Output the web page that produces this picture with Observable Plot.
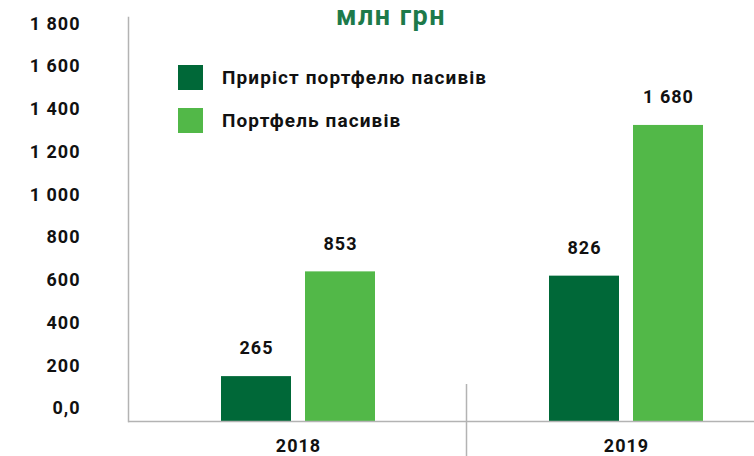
<!DOCTYPE html>
<html>
<head>
<meta charset="utf-8">
<script src="https://cdn.jsdelivr.net/npm/d3@7"></script>
<script src="https://cdn.jsdelivr.net/npm/@observablehq/plot@0.6"></script>
<style>
  html, body { margin: 0; padding: 0; background: #fff; }
  body { font-family: Roboto, "Noto Sans", sans-serif; }
  #wrap { position: relative; width: 754px; height: 456px; overflow: hidden; }
  #title { position: absolute; left: 241px; top: 2px; width: 300px; text-align: center;
           font-size: 27px; line-height: 28px; font-weight: bold; color: #1d7a4a; letter-spacing: 1.5px; }
  #legend { position: absolute; left: 178px; top: 65px; }
  .item { display: flex; align-items: center; height: 25px; margin-bottom: 18px; }
  .sw { width: 25px; height: 25px; margin-right: 19px; }
  .lab { font-size: 19px; font-weight: bold; color: #111; letter-spacing: 1.1px; }
  #chart { position: absolute; left: 0; top: 0; }
  #chart text { letter-spacing: 1px; }
</style>
</head>
<body>
<div id="wrap">
  <div id="chart"></div>
  <div id="title"></div>
  <div id="legend"></div>
</div>
<script>
// ---- data ----
const title = "млн грн";
const years = ["2018", "2019"];
const seriesNames = ["Приріст портфелю пасивів", "Портфель пасивів"];
const seriesColors = ["#006838", "#52b848"];
// printed values
const growthValues = [265, 826];
const portfolioValues = [853, 1680];
// bar heights as drawn in the picture, read against the axis
const growthBarHeights = [210, 680];
const portfolioBarHeights = [700, 1385];
const yTicks = [0, 200, 400, 600, 800, 1000, 1200, 1400, 1600, 1800];

const fmt = v => v === 0 ? "0,0" : d3.format(",")(v).replace(/,/g, " ");

const growth = years.map((year, i) => ({year, value: growthValues[i], height: growthBarHeights[i]}));
const portfolio = years.map((year, i) => ({year, value: portfolioValues[i], height: portfolioBarHeights[i]}));

const grey = "#b3b3b3";
const chart = Plot.plot({
  width: 754,
  height: 456,
  marginLeft: 128,
  marginRight: 0,
  marginTop: 17,
  marginBottom: 35,
  style: {fontFamily: "Roboto, 'Noto Sans', sans-serif", background: "transparent", color: "#111"},
  x: {domain: years, paddingInner: 0.512, paddingOuter: 0.21, align: 0.652, label: null},
  y: {domain: [0, 1890], label: null},
  marks: [
    Plot.frame({anchor: "left", stroke: grey, strokeWidth: 1.5}),
    Plot.ruleX([years[1]], {dx: -160, insetTop: 367, insetBottom: -35, stroke: grey, strokeWidth: 1.5}),
    Plot.barY(growth, {x: "year", y: "height", fill: seriesColors[0], insetLeft: 3, insetRight: 87}),
    Plot.barY(portfolio, {x: "year", y: "height", fill: seriesColors[1], insetLeft: 87, insetRight: 3}),
    Plot.ruleY([0], {stroke: grey, strokeWidth: 1.5}),
    Plot.text(growth, {x: "year", y: "height", text: d => fmt(d.value), dx: -42, dy: -28,
      fontSize: 18, fontWeight: "bold", fill: "#111"}),
    Plot.text(portfolio, {x: "year", y: "height", text: d => fmt(d.value), dx: 42, dy: -28,
      fontSize: 18, fontWeight: "bold", fill: "#111"}),
    Plot.axisY({ticks: yTicks, tickFormat: fmt, tickSize: 0, tickPadding: 48, dy: -13, label: null,
      fontSize: 18, fontWeight: "bold", fill: "#111"}),
    Plot.axisX({tickSize: 0, tickPadding: 18, label: null, fontSize: 18, fontWeight: "bold", fill: "#111"})
  ]
});
document.getElementById("chart").appendChild(chart);

document.getElementById("title").textContent = title;
const legend = document.getElementById("legend");
seriesNames.forEach((name, i) => {
  const item = document.createElement("div");
  item.className = "item";
  const sw = document.createElement("div");
  sw.className = "sw";
  sw.style.background = seriesColors[i];
  const lab = document.createElement("span");
  lab.className = "lab";
  lab.textContent = name;
  item.appendChild(sw);
  item.appendChild(lab);
  legend.appendChild(item);
});
</script>
</body>
</html>
